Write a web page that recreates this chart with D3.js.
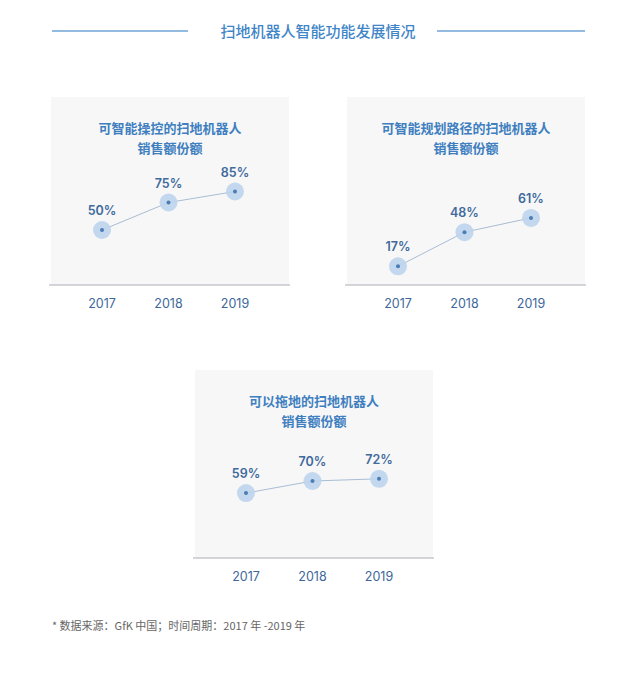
<!DOCTYPE html>
<html>
<head>
<meta charset="utf-8">
<script src="https://cdn.jsdelivr.net/npm/d3@7"></script>
<style>
  body { margin: 0; background: #fff; }
  text { font-family: 'Noto Sans CJK SC', 'Noto Sans', sans-serif; }
  text.num { font-family: Inter, 'Noto Sans', sans-serif; }
</style>
</head>
<body>
<div id="chart"></div>
<script>
// data
const years = ["2017", "2018", "2019"];
const titles = [
    ["可智能操控的扫地机器人", "销售额份额"],
    ["可智能规划路径的扫地机器人", "销售额份额"],
    ["可以拖地的扫地机器人", "销售额份额"]
];
const shareControl = [50, 75, 85];
const sharePath = [17, 48, 61];
const shareMop = [59, 70, 72];
const mainTitle = "扫地机器人智能功能发展情况";
const footnote = "* 数据来源：GfK 中国；时间周期：2017 年 -2019 年";

var width = 640, height = 673;
var svg = d3.select("#chart").append("svg").attr("width", width).attr("height", height);

// header
svg.append("line").attr("x1", 52).attr("x2", 188).attr("y1", 31).attr("y2", 31).attr("stroke", "#6fa5d6").attr("stroke-width", 1.5);
svg.append("line").attr("x1", 437).attr("x2", 585).attr("y1", 31).attr("y2", 31).attr("stroke", "#6fa5d6").attr("stroke-width", 1.5);
svg.append("text").attr("x", 318).attr("y", 37).attr("text-anchor", "middle").attr("font-size", 15).attr("font-weight", 500).attr("fill", "#3f86c8").text(mainTitle);

let panels = [
    {x: 51, y: 97, values: shareControl, title: titles[0]},
    {x: 347, y: 97, values: sharePath, title: titles[1]},
    {x: 195, y: 370, values: shareMop, title: titles[2]}
];
let pw = 238, ph = 188;

panels.forEach(p => {
    let g = svg.append("g").attr("transform", `translate(${p.x},${p.y})`);
    g.append("rect").attr("width", pw).attr("height", ph).attr("fill", "#f7f7f7");
    g.append("line").attr("x1", -2).attr("x2", pw + 1).attr("y1", ph).attr("y2", ph).attr("stroke", "#a9adb3").attr("stroke-width", 1);

    p.title.forEach((t, i) => {
        g.append("text").attr("x", pw / 2).attr("y", 36 + i * 20).attr("text-anchor", "middle")
            .attr("font-size", 13).attr("font-weight", 700).attr("fill", "#3f7fc0").text(t);
    });

    let x = d3.scalePoint().domain(years).range([51, 184]);
    let y = d3.scaleLinear().domain([0, 100]).range([ph, ph - 110]);

    let pts = years.map((yr, i) => ({yr: yr, v: p.values[i]}));
    let line = d3.line().x(d => x(d.yr)).y(d => y(d.v));

    g.append("path").datum(pts).attr("d", line).attr("fill", "none").attr("stroke", "#a8bdd4").attr("stroke-width", 1);
    g.selectAll(".halo").data(pts).join("circle").attr("cx", d => x(d.yr)).attr("cy", d => y(d.v)).attr("r", 9).attr("fill", "#bcd4ec").attr("opacity", 0.9);
    g.selectAll(".dot").data(pts).join("circle").attr("cx", d => x(d.yr)).attr("cy", d => y(d.v)).attr("r", 2).attr("fill", "#4a7db5");
    g.selectAll(".val").data(pts).join("text").attr("class", "num").attr("x", d => x(d.yr)).attr("y", d => y(d.v) - 15)
        .attr("text-anchor", "middle").attr("font-size", 12.5).attr("font-weight", 600).attr("fill", "#3e6a9c").text(d => d.v + "%");

    g.selectAll(".yr").data(years).join("text").attr("class", "num").attr("x", d => x(d)).attr("y", ph + 23)
        .attr("text-anchor", "middle").attr("font-size", 12.5).attr("fill", "#3d679a").text(d => d);
});

svg.append("text").attr("x", 52).attr("y", 630).attr("font-size", 11).attr("fill", "#666").text(footnote);
</script>
</body>
</html>
